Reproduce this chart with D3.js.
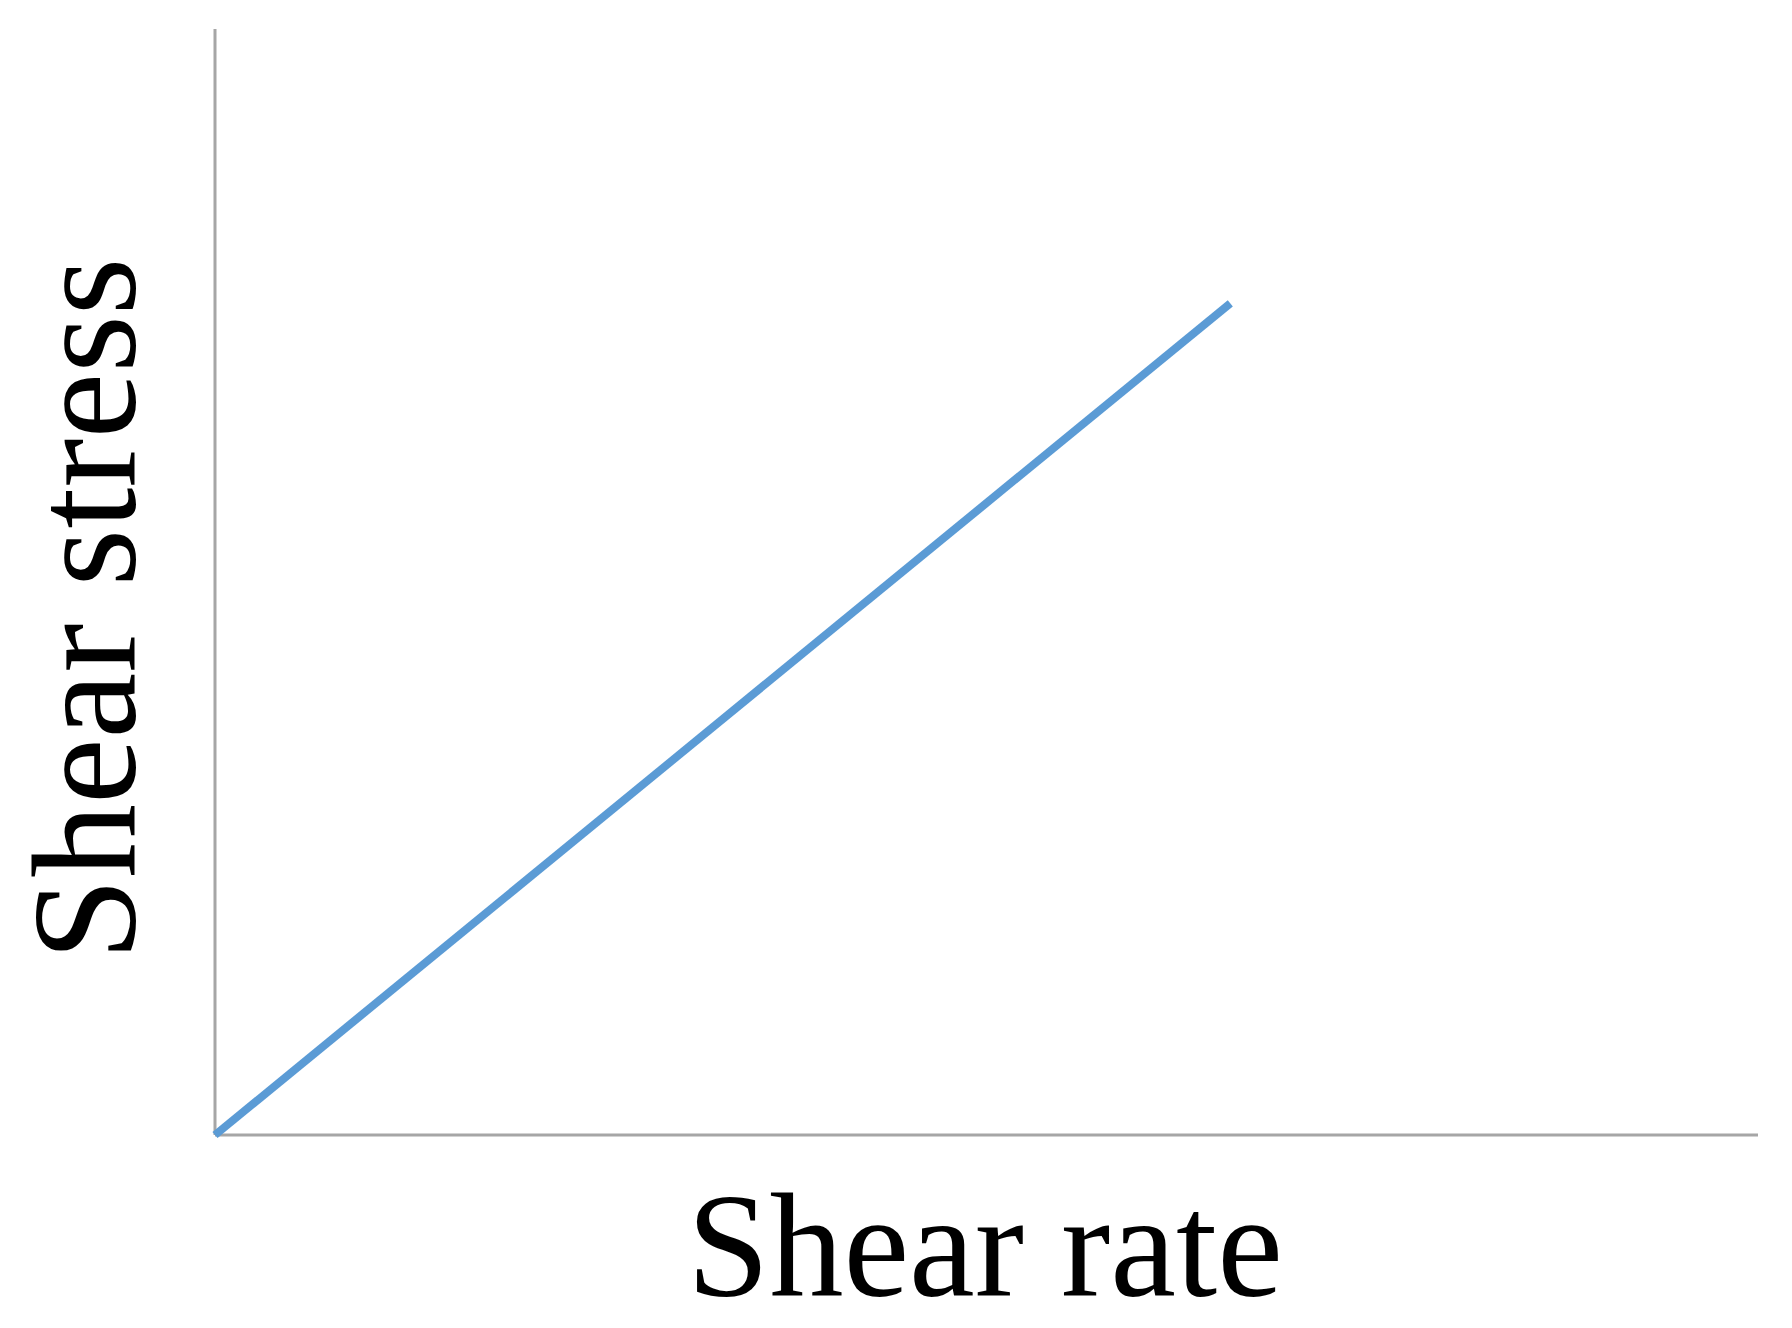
<!DOCTYPE html>
<html><head><meta charset="utf-8">
<script src="https://cdn.jsdelivr.net/npm/d3@7"></script>
<style>body{margin:0;background:#fff}</style></head>
<body><svg id="c" width="1792" height="1328"></svg>
<script>
const shearRate = [0, 6.58];
const shearStress = [0, 7.52];
const xLabel = "Shear rate";
const yLabel = "Shear stress";

const svg = d3.select("#c");
const x = d3.scaleLinear().domain([0,10]).range([215,1758]);
const y = d3.scaleLinear().domain([0,10]).range([1135,29]);

svg.append("line").attr("x1",x(0)).attr("x2",x(0)).attr("y1",y(0)).attr("y2",y(10))
  .attr("stroke","#a6a6a6").attr("stroke-width",3);
svg.append("line").attr("x1",x(0)).attr("x2",x(10)).attr("y1",y(0)).attr("y2",y(0))
  .attr("stroke","#a6a6a6").attr("stroke-width",3);

const pts = shearRate.map((d,i)=>[d, shearStress[i]]);
svg.append("path").datum(pts)
  .attr("d", d3.line().x(d=>x(d[0])).y(d=>y(d[1])))
  .attr("fill","none").attr("stroke","#5b9bd5").attr("stroke-width",8);

svg.append("text").attr("x",985).attr("y",1296).attr("text-anchor","middle")
  .attr("font-family","Liberation Serif, Times New Roman, serif").attr("font-size",148)
  .attr("fill","#000").text(xLabel);
svg.append("text").attr("transform","translate(135,609) rotate(-90)").attr("text-anchor","middle")
  .attr("font-family","Liberation Serif, Times New Roman, serif").attr("font-size",148)
  .attr("fill","#000").text(yLabel);
</script></body></html>
